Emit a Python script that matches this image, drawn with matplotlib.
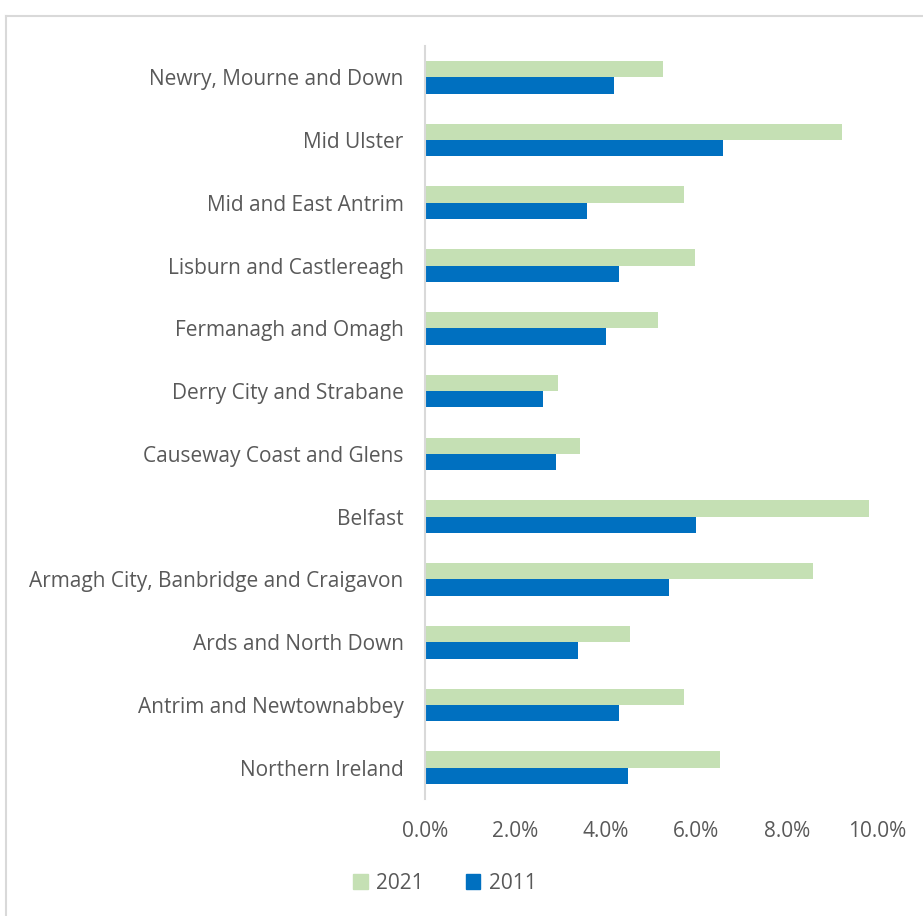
import numpy as np
import matplotlib.pyplot as plt
from matplotlib.lines import Line2D
from matplotlib.ticker import FuncFormatter

plt.rcParams['font.family'] = ['Open Sans', 'DejaVu Sans']

areas = ["Newry, Mourne and Down", "Mid Ulster", "Mid and East Antrim",
         "Lisburn and Castlereagh", "Fermanagh and Omagh", "Derry City and Strabane",
         "Causeway Coast and Glens", "Belfast", "Armagh City, Banbridge and Craigavon",
         "Ards and North Down", "Antrim and Newtownabbey", "Northern Ireland"]
y2021 = [5.27, 9.22, 5.73, 5.98, 5.16, 2.94, 3.42, 9.82, 8.59, 4.53, 5.72, 6.53]
y2011 = [4.19, 6.59, 3.59, 4.29, 4.00, 2.60, 2.89, 6.00, 5.39, 3.39, 4.29, 4.50]

text_col = "#595959"
green = "#C5E0B4"
blue = "#0070C0"

fig = plt.figure(figsize=(9.23, 9.16), dpi=100)
ax = fig.add_axes([0.4605, 0.1275, 0.4898, 0.8225])

n = len(areas)
pos = np.arange(n)[::-1]  # first item at top
h = 0.26
ax.barh(pos + h / 2, y2021, height=h, color=green, label="2021")
ax.barh(pos - h / 2, y2011, height=h, color=blue, label="2011")

ax.set_ylim(-0.5, n - 0.5)
ax.set_xlim(0, 10)
ax.set_xticks([0, 2, 4, 6, 8, 10])
ax.xaxis.set_major_formatter(FuncFormatter(lambda v, p: f"{v:.1f}%"))
ax.set_yticks(pos)
ax.set_yticklabels(areas)
ax.tick_params(axis="both", length=0, labelsize=15, colors=text_col)
ax.tick_params(axis="x", pad=16)
ax.tick_params(axis="y", pad=15.5)

for s in ["top", "right", "bottom"]:
    ax.spines[s].set_visible(False)
ax.spines["left"].set_color("#D9D9D9")
ax.spines["left"].set_linewidth(1.5)

handles = [plt.Rectangle((0, 0), 1, 1, color=green), plt.Rectangle((0, 0), 1, 1, color=blue)]
fig.legend(handles, ["2021", "2011"], loc="center", bbox_to_anchor=(0.482, 0.036),
           ncol=2, frameon=False, fontsize=15, labelcolor=text_col,
           handlelength=0.7, handleheight=0.7, handletextpad=0.4, columnspacing=2.0)

# outer chart frame (left and top edges)
fig.add_artist(Line2D([0.0065, 0.0065], [0.0, 0.983], color="#D9D9D9", lw=1.5))
fig.add_artist(Line2D([0.0065, 1.0], [0.983, 0.983], color="#D9D9D9", lw=1.5))

fig.savefig("out.png", dpi=100)
